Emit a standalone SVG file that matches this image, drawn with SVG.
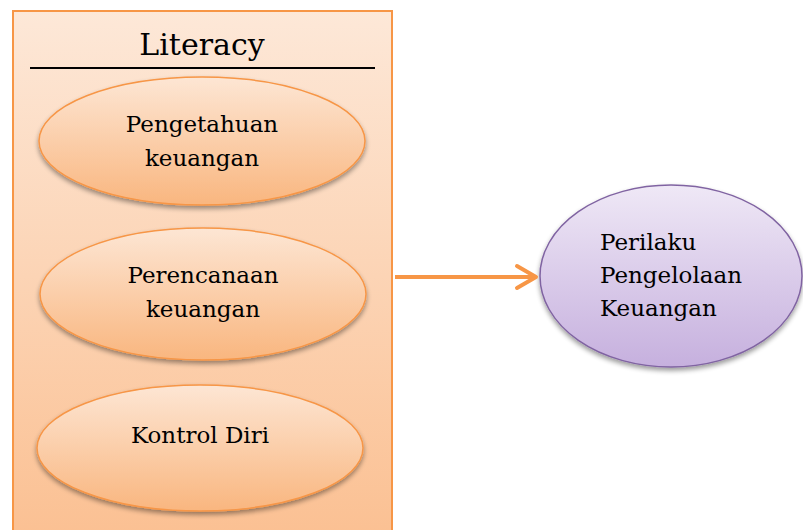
<svg xmlns="http://www.w3.org/2000/svg" width="803" height="530" viewBox="0 0 803 530">
<defs>
<linearGradient id="gBox" x1="0" y1="0" x2="0" y2="1">
<stop offset="0" stop-color="#FDE8D8"/>
<stop offset="1" stop-color="#FBC092"/>
</linearGradient>
<linearGradient id="gOr" x1="0" y1="0" x2="0" y2="1">
<stop offset="0" stop-color="#FDE6D4"/>
<stop offset="1" stop-color="#F9B67F"/>
</linearGradient>
<linearGradient id="gPu" x1="0" y1="0" x2="0" y2="1">
<stop offset="0" stop-color="#EFE8F6"/>
<stop offset="1" stop-color="#C6B0DE"/>
</linearGradient>
<filter id="sh" x="-10%" y="-10%" width="120%" height="130%">
<feGaussianBlur in="SourceAlpha" stdDeviation="2.5"/>
<feOffset dx="0" dy="3" result="b"/>
<feComponentTransfer><feFuncA type="linear" slope="0.4"/></feComponentTransfer>
<feMerge><feMergeNode/><feMergeNode in="SourceGraphic"/></feMerge>
</filter>
<marker id="arr" markerWidth="1" markerHeight="1" refX="0" refY="0" orient="auto" markerUnits="userSpaceOnUse" overflow="visible">
<path d="M-19,-11 L0,0 L-19,11" fill="none" stroke="#F79646" stroke-width="4" stroke-linecap="round" stroke-linejoin="round"/>
</marker>
</defs>
<style>
.oe{fill:url(#gOr);stroke:#F79646;stroke-width:1.5;filter:url(#sh);}
.tx{font-family:"DejaVu Serif","Liberation Serif",serif;font-size:23px;fill:#000;}
</style>
<rect width="803" height="530" fill="#fff"/>
<g id="literacy">
<rect x="13" y="11" width="379" height="530" fill="url(#gBox)" stroke="#F79646" stroke-width="2"/>
<text class="tx" x="202" y="55" style="font-size:30px" text-anchor="middle">Literacy</text>
<line x1="30" y1="68" x2="375" y2="68" stroke="#000" stroke-width="2"/>
</g>
<g id="pengetahuan" text-anchor="middle">
<ellipse class="oe" cx="202" cy="141" rx="163" ry="64"/>
<text class="tx" x="202" y="132">Pengetahuan</text>
<text class="tx" x="202" y="166">keuangan</text>
</g>
<g id="perencanaan" text-anchor="middle">
<ellipse class="oe" cx="203" cy="294" rx="163" ry="66"/>
<text class="tx" x="203" y="283">Perencanaan</text>
<text class="tx" x="203" y="317">keuangan</text>
</g>
<g id="kontrol" text-anchor="middle">
<ellipse class="oe" cx="200" cy="448" rx="163" ry="63"/>
<text class="tx" x="200" y="443">Kontrol Diri</text>
</g>
<g id="perilaku">
<ellipse cx="671" cy="276" rx="131" ry="91" fill="url(#gPu)" stroke="#8064A2" stroke-width="1.5" filter="url(#sh)"/>
<text class="tx" x="600" y="250">Perilaku</text>
<text class="tx" x="600" y="283">Pengelolaan</text>
<text class="tx" x="600" y="316">Keuangan</text>
</g>
<g id="connectors">
<line x1="395" y1="277" x2="536" y2="277" stroke="#F79646" stroke-width="4" marker-end="url(#arr)"/>
</g>
</svg>
